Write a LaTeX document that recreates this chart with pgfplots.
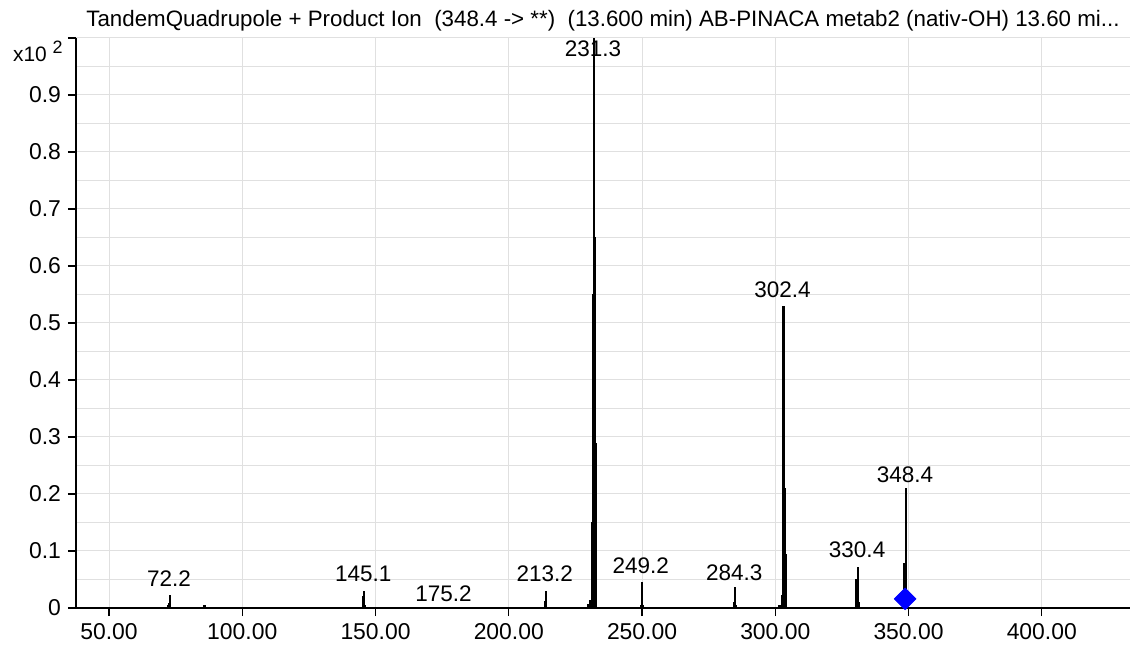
\documentclass[border=0pt]{standalone}
\usepackage{fontspec}
\setmainfont{Liberation Sans}
\usepackage{pgfplots}
\pgfplotsset{compat=1.18}
\begin{document}
\begin{tikzpicture}[lbl/.style={anchor=base, inner sep=0pt, font=\fontsize{11.3}{13}\selectfont}]
\begin{axis}[
  name=ax, at={(0,0)}, anchor=south west,
  scale only axis, width=527bp, height=285bp,
  xmin=37.6, xmax=433.1, ymin=0, ymax=1,
  axis x line=bottom, axis y line=left,
  axis line style={-, line width=0.75bp, black},
  tick align=outside, major tick length=4bp,
  tick style={black, line width=0.6bp},
  xtick={50,100,...,400},
  ytick={0,0.1,0.2,0.3,0.4,0.5,0.6,0.7,0.8,0.9,1.0},
  yticklabels={0,0.1,0.2,0.3,0.4,0.5,0.6,0.7,0.8,0.9,{}},
  minor ytick={0.05,0.15,0.25,0.35,0.45,0.55,0.65,0.75,0.85,0.95},
  minor tick length=0pt,
  grid=both,
  major grid style={black!12, line width=0.5bp},
  minor grid style={black!12, line width=0.5bp},
  xticklabel style={/pgf/number format/.cd, fixed, fixed zerofill, precision=2, assume math mode=true},
  ticklabel style={font=\fontsize{11.5}{13}\selectfont},
  clip mode=individual,
]
\addplot[ycomb, black, line width=1.1bp] coordinates {
 (72.3,0.006) (72.6,0.008) (72.8,0.023) (73.0,0.006)
 (85.6,0.005) (86.0,0.005)
 (145.3,0.021) (145.6,0.024) (145.8,0.030) (146.0,0.005)
 (213.6,0.012) (213.9,0.029)
 (229.9,0.007) (230.4,0.014) (231.3,0.15) (231.7,0.55) (232.0,1.0) (232.3,0.65) (232.6,0.29)
 (249.6,0.006) (249.9,0.046) (250.2,0.005)
 (284.6,0.011) (285.0,0.037) (285.3,0.006)
 (301.4,0.006) (302.0,0.006) (302.5,0.023) (302.8,0.12) (303.1,0.53) (303.6,0.21) (303.9,0.095)
 (330.5,0.05) (331.0,0.072) (331.2,0.01)
 (348.5,0.079) (349.0,0.21)
};
\addplot[only marks, mark=square*, mark size=3.8bp, mark options={rotate=45, fill=blue, draw=blue}] coordinates {(348.7,0.016)};
\node[lbl] at (axis cs:72.5,0.037) {72.2};
\node[lbl] at (axis cs:145.4,0.046) {145.1};
\node[lbl] at (axis cs:175.5,0.012) {175.2};
\node[lbl] at (axis cs:213.5,0.046) {213.2};
\node[lbl] at (axis cs:231.6,0.967) {231.3};
\node[lbl] at (axis cs:249.5,0.061) {249.2};
\node[lbl] at (axis cs:284.6,0.049) {284.3};
\node[lbl] at (axis cs:302.7,0.545) {302.4};
\node[lbl] at (axis cs:330.7,0.088) {330.4};
\node[lbl] at (axis cs:348.7,0.221) {348.4};
\node[lbl, anchor=base east, xshift=-6.5bp, font=\fontsize{10.5}{12}\selectfont] at (rel axis cs:0,0.958) {x10\ \raisebox{0.42em}{\fontsize{9}{10}\selectfont 2}};
\node[lbl, yshift=5.5bp, font=\fontsize{11.2}{13}\selectfont] at (rel axis cs:0.5,1) {TandemQuadrupole + Product Ion\ \ (348.4 -> **)\ \ (13.600 min) AB-PINACA metab2 (nativ-OH) 13.60 mi...};
\end{axis}
\path (ax.south west) ++(-38bp,-21.5bp) rectangle ++(567bp,325.5bp);
\end{tikzpicture}
\end{document}
